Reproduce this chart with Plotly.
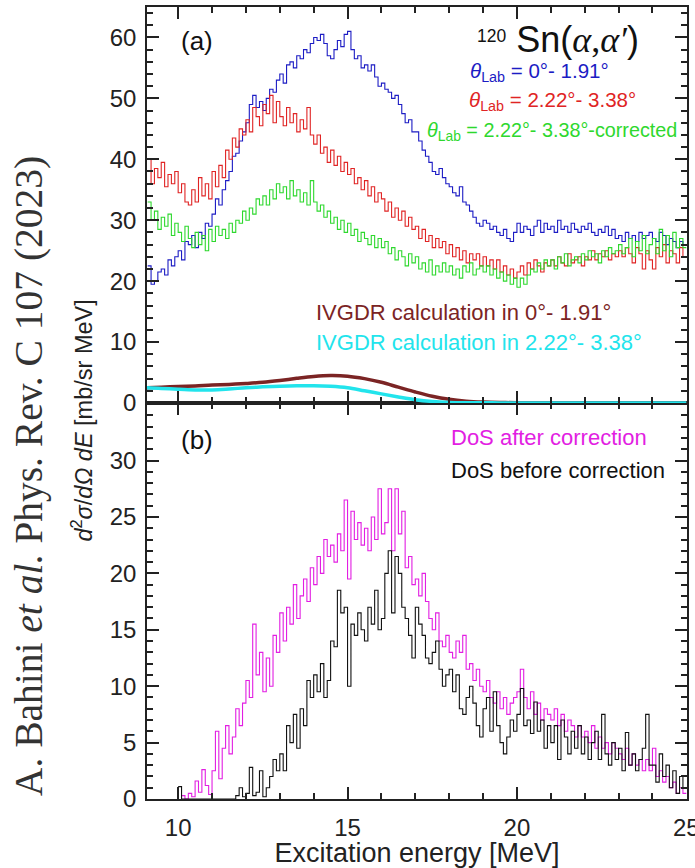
import plotly.graph_objects as go

# ---------------- data ----------------
E_START = 9.1   # first bin low edge [MeV]
BIN = 0.1       # bin width [MeV]

blue_0_191 = [
    22.5, 19.5, 20.0, 21.5, 22.0, 21.0, 23.5, 22.5, 24.0,
    25.0, 23.5, 26.5, 26.0, 27.5, 25.5, 28.0, 27.0, 29.5, 29.0,
    31.0, 33.5, 32.5, 35.0, 36.5, 38.0, 40.5, 41.0, 43.0, 44.5,
    46.0, 49.0, 50.5, 48.5, 49.5, 48.0, 50.0, 51.5, 51.0, 53.0,
    54.0, 52.5, 55.5, 56.0, 55.0, 57.0, 56.5, 58.0, 57.5, 59.0,
    60.0, 59.5, 60.5, 59.0, 57.0, 56.5, 58.0, 59.5, 58.5, 60.5,
    61.0, 58.0, 56.5, 57.0, 55.0, 55.5, 54.5, 55.5, 53.5, 52.0,
    52.5, 51.5, 51.0, 50.0, 50.5, 49.0, 47.5, 46.0, 46.5, 44.5,
    44.5, 43.0, 41.5, 40.5, 39.5, 38.0, 37.5, 38.5, 37.0, 36.0,
    35.5, 34.5, 34.0, 35.5, 33.0, 32.5, 31.5, 30.5, 29.5, 29.0,
    30.0, 29.5, 28.5, 29.0, 28.0, 27.5, 28.5, 27.0, 26.5, 28.0,
    29.5, 28.0, 29.0, 28.5, 27.5, 29.0, 30.0, 28.0, 29.5, 28.5,
    29.0, 28.0, 30.0, 28.5, 29.0, 28.0, 29.5, 28.5, 28.0, 29.0,
    28.5, 29.5, 28.0, 27.5, 28.5, 28.0, 29.0, 27.5, 28.5, 27.0,
    27.5, 26.5, 28.0, 27.0, 27.5, 26.5, 28.0, 27.0, 27.5, 28.0,
    27.0, 26.5, 28.0, 27.5, 26.0, 27.0, 26.5, 25.5, 26.5, 26.0,
]

red_222_338 = [
    40.0, 36.0, 38.5, 37.0, 39.5, 35.5, 37.5, 36.0, 38.0,
    34.5, 36.0, 33.0, 32.5, 35.0, 33.0, 37.0, 34.0, 36.0, 33.5,
    38.0, 35.5, 39.0, 37.0, 41.5, 40.0, 43.5, 42.0, 45.0, 44.0,
    46.5, 44.5, 48.5, 47.0, 45.5, 49.0, 47.5, 50.5, 46.0, 49.5,
    47.0, 45.5, 48.5, 46.0, 47.5, 44.5, 46.5, 45.0, 48.5, 44.0,
    42.5, 44.0, 41.0, 42.0, 39.5, 41.5, 39.0, 40.5, 38.0, 39.5,
    37.5, 38.5, 36.0, 37.0, 35.0, 36.5, 34.0, 35.5, 33.0, 34.5,
    33.5, 31.5, 33.0, 30.5, 32.0, 30.0, 31.5, 29.0, 30.5, 28.5,
    29.0, 27.0, 28.5, 26.5, 27.5, 25.5, 27.0, 25.5, 26.5, 24.5,
    26.0, 24.0, 25.5, 23.5, 25.0, 23.0, 24.5, 23.5, 24.5, 22.5,
    24.0, 22.5, 23.5, 22.0, 23.5, 21.5, 22.5, 21.0, 22.0, 20.5,
    21.5, 22.5, 21.0, 23.0, 22.0, 23.5, 22.5, 21.5, 23.0, 22.5,
    23.5, 22.5, 24.0, 23.0, 22.5, 24.5, 23.0, 23.5, 24.0, 22.5,
    24.0, 23.5, 25.0, 23.5, 24.5, 24.0, 25.0, 23.5, 24.5, 24.0,
    25.0, 24.0, 25.5, 24.5, 23.0, 25.5, 24.5, 22.0, 25.0, 23.5,
    22.0, 25.5, 24.0, 26.0, 23.0, 25.0, 24.5, 23.0, 25.5, 24.0,
]

green_222_338_corr = [
    33.0, 30.0, 31.5, 28.5, 30.5, 29.0, 31.0, 27.5, 29.5,
    28.0, 26.5, 29.0, 27.0, 25.5, 28.0, 26.0, 27.5, 25.0, 28.5,
    26.5, 29.0, 27.5, 28.5, 27.0, 29.5, 28.0, 30.0, 29.5, 31.5,
    30.0, 32.0, 31.0, 33.5, 32.5, 34.0, 32.5, 35.0, 33.5, 36.0,
    34.5, 35.5, 33.5, 36.5, 34.0, 35.0, 33.0, 34.5, 32.5, 36.5,
    33.0, 31.5, 32.5, 30.5, 31.5, 29.5, 30.5, 28.5, 30.0, 28.0,
    29.5, 27.5, 28.5, 26.5, 28.0, 27.0, 26.0, 27.5, 25.5, 27.0,
    25.5, 26.5, 24.5, 25.5, 23.5, 25.0, 24.0, 22.5, 24.5, 23.0,
    24.0, 22.0, 23.0, 21.5, 23.5, 21.0, 22.5, 21.5, 23.0, 21.5,
    22.5, 21.0, 22.0, 20.5, 22.5, 21.5, 23.0, 21.0, 22.0, 22.5,
    21.5, 22.5, 21.0, 22.0, 20.5, 21.5, 20.0, 21.0, 19.5, 20.5,
    19.0, 20.5, 19.5, 21.0, 22.0, 21.5, 23.0, 22.0, 23.5, 22.5,
    23.5, 22.0, 24.0, 23.0, 24.5, 22.5, 23.5, 24.0, 23.0, 24.5,
    23.5, 25.0, 24.0, 24.5, 23.0, 25.0, 24.0, 25.5, 24.5, 25.0,
    26.0, 24.5, 25.5, 27.0, 24.0, 26.5, 25.0, 27.5, 24.5, 26.0,
    27.0, 24.5, 28.5, 25.0, 27.5, 24.0, 28.0, 25.5, 27.0, 25.5,
]

dos_after = [
    None, None, None, None, None, None, None, None, None,
    None, 0.3, 0.0, 0.5, 0.2, 1.6, 0.6, 2.6, 1.2, 0.4,
    2.5, 6.0, 1.8, 4.5, 6.5, 4.0, 5.5, 8.0, 6.5, 8.5,
    10.5, 9.0, 15.5, 11.0, 13.0, 9.5, 12.5, 10.0, 14.5, 13.0,
    16.5, 14.0, 17.0, 15.5, 19.0, 16.0, 18.0, 19.5, 17.5, 20.5,
    19.0, 21.5, 20.0, 23.0, 21.5, 22.5, 21.0, 23.5, 22.0, 26.5,
    19.5, 25.5, 23.0, 24.5, 22.5, 24.0, 22.0, 25.0, 23.0, 27.5,
    23.5, 24.5, 27.5, 22.0, 27.5, 23.5, 25.5, 20.5, 21.5, 19.0,
    19.5, 18.0, 20.0, 17.5, 16.0, 15.0, 16.5, 14.0, 13.5, 14.5,
    13.0, 12.5, 14.0, 13.0, 14.5, 11.5, 12.0, 10.5, 11.5, 10.0,
    9.5, 10.5, 9.0, 8.5, 9.5, 8.0, 9.0, 7.5, 8.5, 9.0,
    9.5, 11.5, 9.0, 8.0, 9.5, 7.5, 8.5, 7.0, 8.0, 7.5,
    7.0, 8.0, 6.5, 7.5, 6.0, 7.0, 6.5, 5.5, 6.5, 5.5,
    6.0, 5.0, 6.5, 4.5, 5.5, 4.5, 5.0, 4.0, 5.0, 4.5,
    4.0, 3.5, 4.5, 3.0, 4.0, 3.0, 3.5, 2.5, 3.5, 2.5,
    4.5, 2.0, 2.5, 1.5, 2.0, 1.0, 1.5, 0.5, 1.0, 0.5,
]

dos_before = [
    None, None, None, None, None, None, None, None, None,
    1.1, 0.0, 0.0, 0.0, 0.0, 0.0, 0.0, 0.0, 0.0, 0.0,
    0.0, 0.0, 0.0, 0.0, 0.0, 0.0, 0.0, 0.3, 1.0, 0.2,
    0.5, 2.8, 0.3, 0.6, 2.5, 0.2, 1.0, 2.0, 3.5, 2.5,
    4.0, 2.5, 6.5, 5.0, 7.5, 4.5, 8.0, 6.5, 10.5, 9.0,
    11.0, 9.5, 12.0, 9.0, 10.5, 14.0, 13.5, 18.5, 16.5, 17.0,
    10.0, 15.5, 14.5, 16.5, 15.0, 14.0, 17.0, 15.5, 18.5, 15.0,
    16.0, 20.0, 22.0, 16.5, 21.5, 20.0, 17.0, 16.0, 14.5, 12.5,
    17.0, 15.5, 14.5, 12.5, 12.0, 13.0, 14.0, 11.5, 10.0, 11.0,
    11.5, 9.5, 11.0, 8.0, 7.5, 9.0, 10.0, 8.5, 6.5, 5.5,
    8.0, 9.0, 6.0, 9.5, 6.5, 5.0, 4.0, 5.5, 7.0, 6.0,
    7.5, 9.8, 6.5, 7.0, 5.8, 8.6, 6.0, 7.0, 4.5, 6.5,
    5.0, 6.5, 3.5, 7.0, 5.5, 4.0, 6.0, 4.5, 6.5, 4.0,
    5.5, 3.5, 5.0, 6.0, 3.5, 7.5, 4.0, 3.0, 5.0, 3.5,
    4.5, 2.5, 5.9, 3.0, 4.0, 2.5, 3.5, 4.5, 7.5, 3.0,
    3.0, 1.5, 4.0, 2.0, 3.0, 1.0, 2.5, 0.5, 2.0, 1.0,
]

ivgdr_E = [9.0, 9.5, 10.0, 10.5, 11.0, 11.5, 12.0, 12.5, 13.0, 13.5, 14.0, 14.5,
           15.0, 15.5, 16.0, 16.5, 17.0, 17.5, 18.0, 18.5, 19.0, 19.5, 20.0, 21.0,
           22.0, 23.0, 24.0, 25.0]
ivgdr_0_191 = [2.5, 2.6, 2.7, 2.8, 2.95, 3.05, 3.2, 3.4, 3.7, 4.05, 4.35, 4.5,
               4.4, 4.0, 3.4, 2.6, 1.8, 1.1, 0.6, 0.3, 0.15, 0.08, 0.05, 0.03,
               0.02, 0.02, 0.02, 0.02]
ivgdr_222_338 = [2.5, 2.4, 2.25, 2.15, 2.15, 2.3, 2.5, 2.65, 2.75, 2.82, 2.85, 2.75,
                 2.5, 2.0, 1.5, 1.0, 0.55, 0.25, 0.1, 0.05, 0.03, 0.02, 0.02, 0.02,
                 0.02, 0.02, 0.02, 0.02]

X_RANGE = [9.08, 25.02]
X_TICKS = [10, 15, 20, 25]
TOP_RANGE = [0, 65]
TOP_TICKS = [0, 10, 20, 30, 40, 50, 60]
BOT_RANGE = [0, 35.1]
BOT_TICKS = [0, 5, 10, 15, 20, 25, 30]


def hist_xy(vals):
    xs = [E_START + i * BIN for i in range(len(vals) + 1)]
    ys = list(vals) + [vals[-1]]
    return xs, ys


fig = go.Figure()

# top panel (a)
for vals, col in [(blue_0_191, "#1c1cc4"), (red_222_338, "#e02424"),
                  (green_222_338_corr, "#2ed82e")]:
    xs, ys = hist_xy(vals)
    fig.add_trace(go.Scatter(x=xs, y=ys, mode="lines", line=dict(color=col, width=1.1, shape="hv"),
                             xaxis="x2", yaxis="y2", showlegend=False))

fig.add_trace(go.Scatter(x=ivgdr_E, y=ivgdr_0_191, mode="lines",
                         line=dict(color="#7b2424", width=3.5, shape="spline"),
                         xaxis="x2", yaxis="y2", showlegend=False))
fig.add_trace(go.Scatter(x=ivgdr_E, y=ivgdr_222_338, mode="lines",
                         line=dict(color="#22e4ec", width=3.5, shape="spline"),
                         xaxis="x2", yaxis="y2", showlegend=False))

# bottom panel (b)
for vals, col in [(dos_after, "#e21ee2"), (dos_before, "#111111")]:
    xs, ys = hist_xy(vals)
    fig.add_trace(go.Scatter(x=xs, y=ys, mode="lines", line=dict(color=col, width=1.1, shape="hv"),
                             xaxis="x", yaxis="y", showlegend=False, connectgaps=False))

SANS = "Liberation Sans, Arial, sans-serif"
SERIF = "Liberation Serif, Times New Roman, serif"
tickfont = dict(family=SANS, size=24, color="#222222")
minor_style = dict(ticklen=6, ticks="inside", tickcolor="#222222", tickwidth=1.5)
axis_common = dict(showline=True, linecolor="#222222", linewidth=1.5, mirror="ticks",
                   ticks="inside", tickcolor="#222222", tickwidth=1.5, showgrid=False,
                   zeroline=False, tickfont=tickfont, automargin=False)

fig.update_layout(
    width=695, height=868,
    margin=dict(l=147, r=8, t=7, b=69),
    paper_bgcolor="white", plot_bgcolor="white",
    xaxis=dict(range=X_RANGE, domain=[0, 1], anchor="y", tickvals=X_TICKS, ticklen=12,
               ticklabelstandoff=6, ticklabeloverflow="allow",
               minor=dict(dtick=1, tick0=0, **minor_style),
               title=dict(text="Excitation energy [MeV]", standoff=4,
                          font=dict(family=SANS, size=27, color="#222222")),
               **axis_common),
    xaxis2=dict(range=X_RANGE, domain=[0, 1], anchor="y2", matches="x", tickvals=X_TICKS, ticklen=12,
                showticklabels=False,
                minor=dict(dtick=1, tick0=0, **minor_style),
                **axis_common),
    yaxis=dict(range=BOT_RANGE, domain=[0, 0.5], anchor="x", tickvals=BOT_TICKS, ticklen=12,
               ticklabelstandoff=4,
               minor=dict(dtick=1, tick0=0, **minor_style),
               **axis_common),
    yaxis2=dict(range=TOP_RANGE, domain=[0.5, 1], anchor="x2", tickvals=TOP_TICKS, ticklen=12,
                ticklabelstandoff=4,
                minor=dict(dtick=2, tick0=0, **minor_style),
                **axis_common),
)

ann = []
# panel (a)
ann.append(dict(x=10.55, y=59.5, xref="x2", yref="y2", text="(a)", showarrow=False,
                font=dict(family=SANS, size=26, color="#111111")))
ann.append(dict(x=23.65, y=59.6, xref="x2", yref="y2", xanchor="right",
                text="<span style='font-size:25px'><sup>120</sup></span> Sn(<span style='font-family:Liberation Serif'><i>α</i>,<i>α′</i></span>)",
                showarrow=False, font=dict(family=SANS, size=36, color="#111111")))
ann.append(dict(x=22.77, y=54.4, xref="x2", yref="y2", xanchor="right",
                text="<i>θ</i><sub>Lab</sub> = 0°- 1.91°", showarrow=False,
                font=dict(family=SANS, size=20.5, color="#1c1cc4")))
ann.append(dict(x=23.56, y=49.5, xref="x2", yref="y2", xanchor="right",
                text="<i>θ</i><sub>Lab</sub> = 2.22°- 3.38°", showarrow=False,
                font=dict(family=SANS, size=20.5, color="#e02424")))
ann.append(dict(x=24.77, y=44.6, xref="x2", yref="y2", xanchor="right",
                text="<i>θ</i><sub>Lab</sub> = 2.22°- 3.38°-corrected", showarrow=False,
                font=dict(family=SANS, size=19.8, color="#2ed82e")))
ann.append(dict(x=14.0, y=14.8, xref="x2", yref="y2", xanchor="left",
                text="IVGDR calculation in 0°- 1.91°", showarrow=False,
                font=dict(family=SANS, size=22, color="#7b2424")))
ann.append(dict(x=14.0, y=10.0, xref="x2", yref="y2", xanchor="left",
                text="IVGDR calculation in 2.22°- 3.38°", showarrow=False,
                font=dict(family=SANS, size=22, color="#22e4ec")))
# panel (b)
ann.append(dict(x=10.55, y=31.8, xref="x", yref="y", text="(b)", showarrow=False,
                font=dict(family=SANS, size=26, color="#111111")))
ann.append(dict(x=18.0, y=32.0, xref="x", yref="y", xanchor="left",
                text="DoS after correction", showarrow=False,
                font=dict(family=SANS, size=22, color="#e21ee2")))
ann.append(dict(x=18.0, y=29.1, xref="x", yref="y", xanchor="left",
                text="DoS before correction", showarrow=False,
                font=dict(family=SANS, size=22, color="#111111")))
# shared y title and citation (paper coordinates)
ann.append(dict(x=-0.12, y=0.478, xref="paper", yref="paper", textangle=-90,
                xanchor="center", yanchor="middle",
                text="<i>d</i><sup>2</sup><i>σ</i>/<i>d</i><i>Ω</i> <i>dE</i> [mb/sr MeV]",
                showarrow=False, font=dict(family=SANS, size=23.5, color="#222222")))
ann.append(dict(x=-0.218, y=0.408, xref="paper", yref="paper", textangle=-90,
                xanchor="center", yanchor="middle",
                text="A. Bahini <i>et al.</i> Phys. Rev. C 107 (2023)",
                showarrow=False, font=dict(family=SERIF, size=39.5, color="#333333")))
fig.update_layout(annotations=ann)

fig.write_html("out.html", config={"displayModeBar": False},
               post_script="document.body.style.margin='0';document.body.style.padding='0';")
